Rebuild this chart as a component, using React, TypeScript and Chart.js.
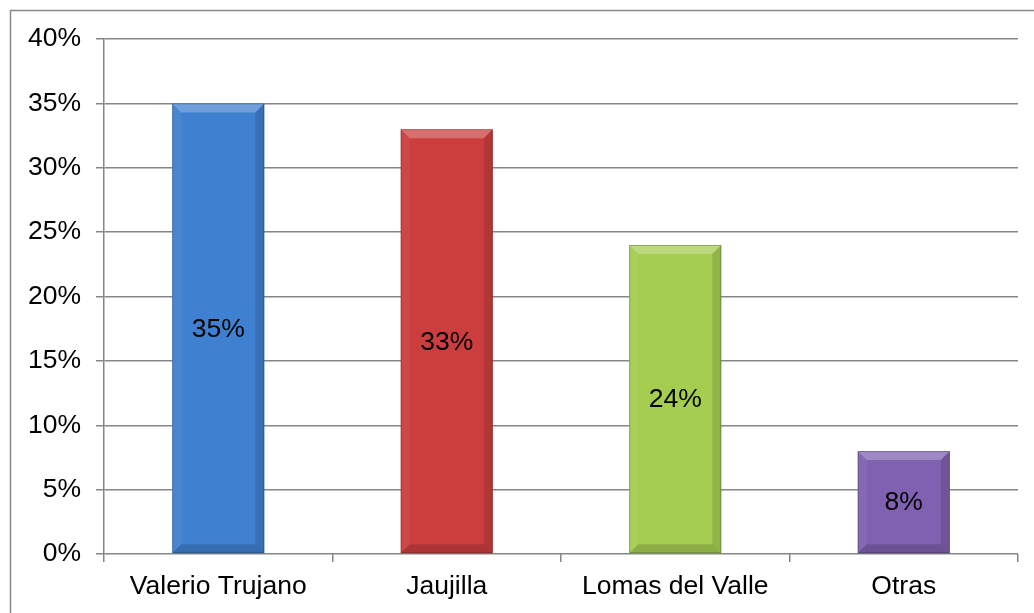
import React, { useEffect, useRef } from "react";
import { Chart, registerables } from "chart.js";

Chart.register(...registerables);

const categories = ["Valerio Trujano", "Jaujilla", "Lomas del Valle", "Otras"];
const values = [35, 33, 24, 8];
const barColors = ["#4080D0", "#CC3E3E", "#A5CD50", "#8060B0"];
const yTicksMax = 40;
const yTicksStep = 5;

const FONT = '"Liberation Sans", Arial, sans-serif';
const FONT_SIZE = 26.5;

const framePlugin = {
  id: "frame",
  beforeDraw(chart: any) {
    const ctx = chart.ctx;
    ctx.save();
    ctx.fillStyle = "#ffffff";
    ctx.fillRect(0, 0, chart.width, chart.height);
    ctx.strokeStyle = "#8a8a8a";
    ctx.lineWidth = 1.5;
    ctx.strokeRect(10.5, 10.5, chart.width + 20, chart.height + 20);
    ctx.restore();
  },
};

const bevelPlugin = {
  id: "bevel",
  afterDatasetsDraw(chart: any) {
    const ctx = chart.ctx;
    const meta = chart.getDatasetMeta(0);
    meta.data.forEach((bar: any, i: number) => {
      const { x, y, base, width } = bar.getProps(["x", "y", "base", "width"], true);
      const l = x - width / 2;
      const r = x + width / 2;
      const t = Math.min(y, base);
      const b = Math.max(y, base);
      const bv = 9;
      ctx.save();
      // top
      ctx.fillStyle = "rgba(255,255,255,0.25)";
      ctx.beginPath();
      ctx.moveTo(l, t);
      ctx.lineTo(r, t);
      ctx.lineTo(r - bv, t + bv);
      ctx.lineTo(l + bv, t + bv);
      ctx.closePath();
      ctx.fill();
      // left
      ctx.fillStyle = "rgba(255,255,255,0.05)";
      ctx.beginPath();
      ctx.moveTo(l, t);
      ctx.lineTo(l + bv, t + bv);
      ctx.lineTo(l + bv, b - bv);
      ctx.lineTo(l, b);
      ctx.closePath();
      ctx.fill();
      // right
      ctx.fillStyle = "rgba(0,0,0,0.12)";
      ctx.beginPath();
      ctx.moveTo(r, t);
      ctx.lineTo(r - bv, t + bv);
      ctx.lineTo(r - bv, b - bv);
      ctx.lineTo(r, b);
      ctx.closePath();
      ctx.fill();
      // bottom
      ctx.fillStyle = "rgba(0,0,0,0.15)";
      ctx.beginPath();
      ctx.moveTo(l, b);
      ctx.lineTo(r, b);
      ctx.lineTo(r - bv, b - bv);
      ctx.lineTo(l + bv, b - bv);
      ctx.closePath();
      ctx.fill();
      // thin dark edges
      ctx.strokeStyle = "rgba(0,0,0,0.22)";
      ctx.lineWidth = 1;
      ctx.strokeRect(l + 0.5, t + 0.5, width - 1, b - t - 1);
      // label
      ctx.fillStyle = "#000";
      ctx.font = `${FONT_SIZE}px ${FONT}`;
      ctx.textAlign = "center";
      ctx.textBaseline = "middle";
      ctx.fillText(values[i] + "%", x, (t + b) / 2 + 1);
      ctx.restore();
    });
  },
};

export default function App() {
  const ref = useRef<HTMLCanvasElement>(null);
  useEffect(() => {
    if (!ref.current) return;
    const chart = new Chart(ref.current, {
      type: "bar",
      data: {
        labels: categories,
        datasets: [
          {
            data: values,
            backgroundColor: barColors,
            borderWidth: 0,
            barPercentage: 0.403,
            categoryPercentage: 1,
          },
        ],
      },
      options: {
        responsive: false,
        animation: false,
        devicePixelRatio: 1,
        layout: { padding: { top: 39, right: 16, left: 0, bottom: 0 } },
        plugins: { legend: { display: false }, tooltip: { enabled: false } },
        scales: {
          x: {
            grid: {
              display: true,
              drawOnChartArea: false,
              drawTicks: true,
              tickLength: 8,
              color: "#868686",
              lineWidth: 1.5,
              offset: true,
            },
            border: { display: false },
            ticks: {
              color: "#000",
              font: { family: FONT, size: FONT_SIZE },
              padding: 9,
            },
            afterFit: (s: any) => {
              s.height = 59;
            },
          },
          y: {
            min: 0,
            max: yTicksMax,
            grid: {
              color: "#868686",
              lineWidth: 1.5,
              tickLength: 8,
            },
            border: { display: true, color: "#868686", width: 1.5 },
            ticks: {
              stepSize: yTicksStep,
              color: "#000",
              font: { family: FONT, size: FONT_SIZE },
              padding: 15,
              callback: (v: any) => v + "%",
            },
            afterFit: (s: any) => {
              s.width = 104;
            },
          },
        },
      },
      plugins: [framePlugin, bevelPlugin],
    });
    return () => chart.destroy();
  }, []);
  return (
    <div style={{ position: "absolute", left: 0, top: 0, width: 1034, height: 613 }}>
      <canvas ref={ref} width={1034} height={613} />
    </div>
  );
}
